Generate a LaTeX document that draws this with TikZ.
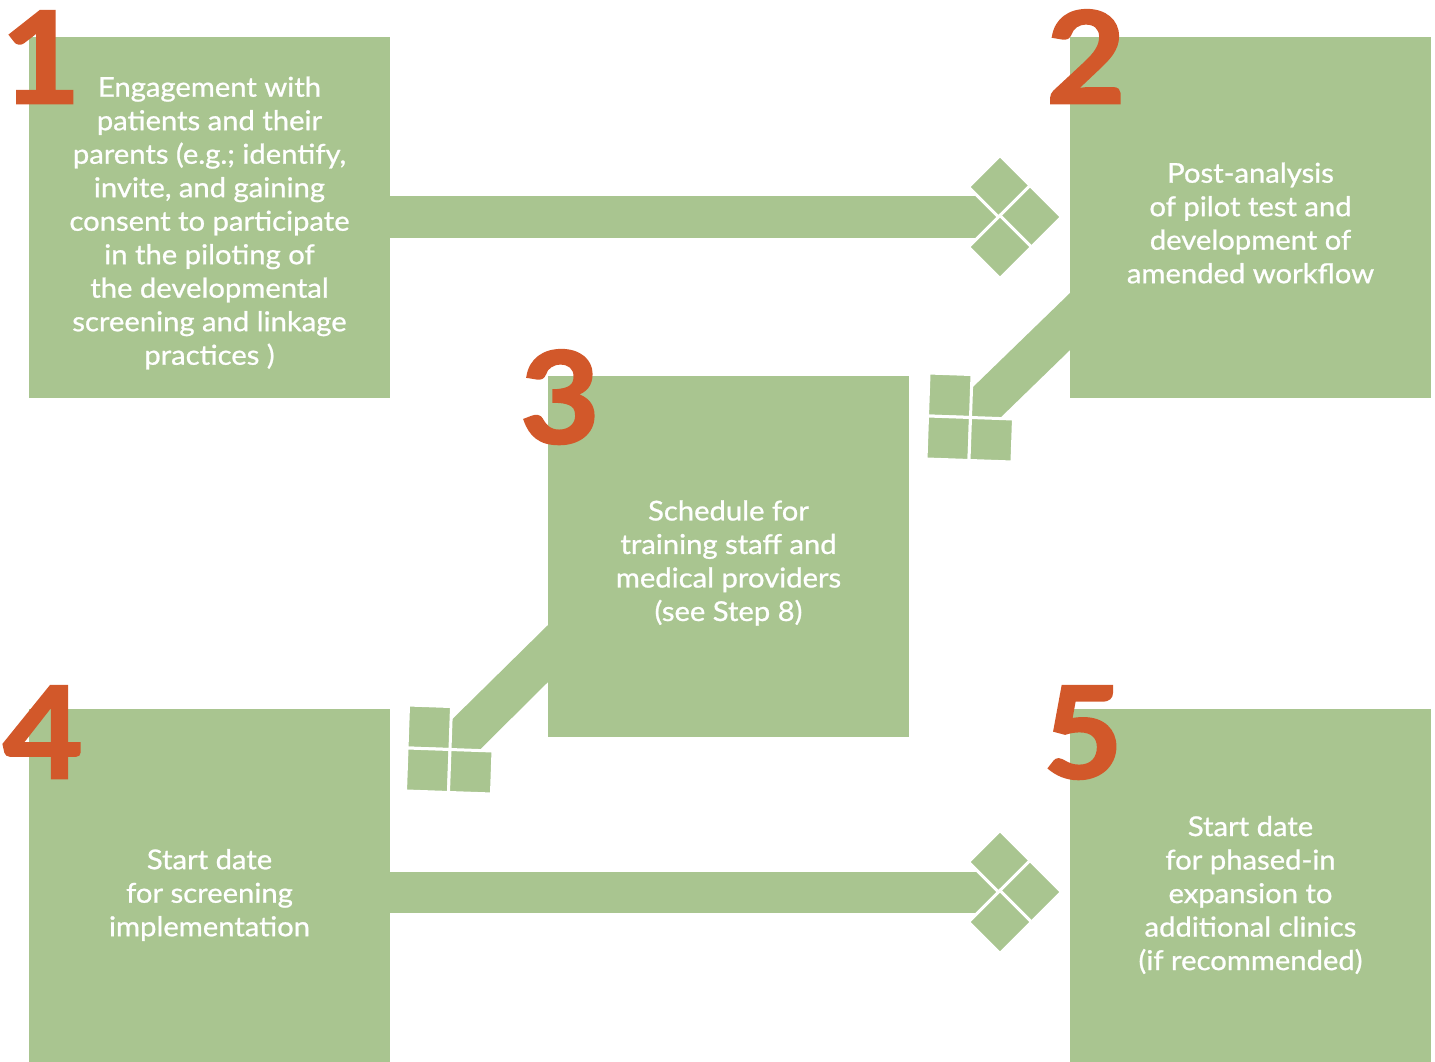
\documentclass[tikz,border=0pt]{standalone}
\usepackage{fontspec}
\setmainfont{Lato}
\newfontfamily\lblfont{Lato}[FakeBold=0.9, FakeStretch=1.07]
\newfontfamily\numfont{Lato Bold}[FakeBold=2, FakeStretch=1.08]
\usetikzlibrary{calc}
\definecolor{boxgreen}{HTML}{A9C590}
\definecolor{numorange}{HTML}{D2582A}
\tikzset{
  box/.style={fill=boxgreen, draw=none, inner sep=0, minimum width=361pt, minimum height=361pt, anchor=north west},
  lbl/.style={text=white, align=center, font=\lblfont\fontsize{27.3}{33.5}\selectfont, inner sep=0},
  num/.style={text=numorange, font=\numfont\fontsize{127}{127}\selectfont, inner sep=0, anchor=base west},
  shaft/.style={fill=boxgreen, draw=none},
  tip/.style={fill=boxgreen, draw=white, line width=3pt, line join=miter},
}
\begin{document}
\begin{tikzpicture}[x=1pt,y=-1pt]
\useasboundingbox (0,0) rectangle (1435,1062);
% boxes
\node[box] (b1) at (29,37) {};
\node[box] (b2) at (1070,37) {};
\node[box] (b3) at (548,376) {};
\node[box, minimum height=353pt] (b4) at (29,709) {};
\node[box, minimum height=353pt] (b5) at (1070,709) {};
% arrow 1 -> 2
\coordinate (t12) at (1000,217);
\fill[shaft] (390,196) rectangle (t12 |- 0,238);
\foreach \dx/\dy in {0/-30, 30/0, 0/30}{
  \draw[tip] ($(t12)+(\dx,\dy)+(0,-31.5)$) -- ++(31.5,31.5) -- ++(-31.5,31.5) -- ++(-31.5,-31.5) -- cycle;
}
% arrow 4 -> 5
\coordinate (t45) at (1000,892);
\fill[shaft] (390,872) rectangle (t45 |- 0,913);
\foreach \dx/\dy in {0/-30, 30/0, 0/30}{
  \draw[tip] ($(t45)+(\dx,\dy)+(0,-31.5)$) -- ++(31.5,31.5) -- ++(-31.5,31.5) -- ++(-31.5,-31.5) -- cycle;
}
% arrow 2 -> 3
\coordinate (t23) at (970.5,417.5);
\fill[shaft] ($(t23)+(0,-28)$) -- (1070,293) -- (1070,350) -- ($(t23)+(29.5,0.5)$) -- ($(t23)+(0,0.5)$) -- cycle;
\begin{scope}[shift={(t23)}, rotate=-2]
  \draw[tip] (-43,-43) rectangle (0,0);
  \draw[tip] (-43,0) rectangle (0,43);
  \draw[tip] (0,0) rectangle (43,43);
\end{scope}
% arrow 3 -> 4
\coordinate (t34) at (450,749.5);
\fill[shaft] ($(t34)+(0,-28)$) -- (548,625) -- (548,682) -- ($(t34)+(29.5,0.5)$) -- ($(t34)+(0,0.5)$) -- cycle;
\begin{scope}[shift={(t34)}, rotate=-2]
  \draw[tip] (-43,-43) rectangle (0,0);
  \draw[tip] (-43,0) rectangle (0,43);
  \draw[tip] (0,0) rectangle (43,43);
\end{scope}
% numbers
\node[num] (n1) at (1,103) {1};
\node[num] (n2) at (1046,103) {2};
\node[num] (n3) at (520,443) {3};
\node[num] (n4) at (3,778) {4};
\node[num] (n5) at (1043,778) {5};
% labels
\node[lbl] (l1) at (209.5,223) {Engagement with\\patients and their\\parents (e.g.; identify,\\invite, and gaining\\consent to participate\\in the piloting of\\the developmental\\screening and linkage\\practices )};
\node[lbl] (l2) at (1250.5,223) {Post-analysis\\of pilot test and\\development of\\amended workflow};
\node[lbl] (l3) at (728.5,563) {Schedule for\\training staff and\\medical providers\\(see Step 8)};
\node[lbl] (l4) at (209.5,895) {Start date\\for screening\\implementation};
\node[lbl] (l5) at (1250.5,895) {Start date\\for phased-in\\expansion to\\additional clinics\\(if recommended)};
\end{tikzpicture}
\end{document}
